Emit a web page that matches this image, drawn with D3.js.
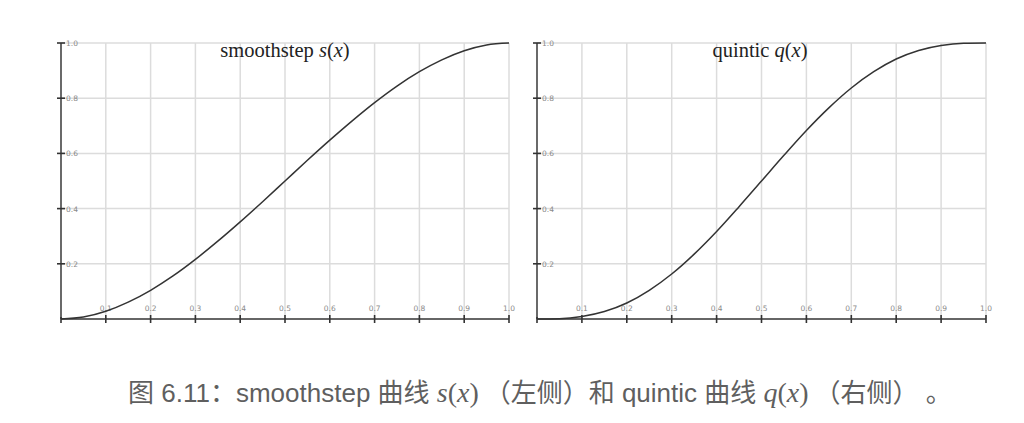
<!DOCTYPE html>
<html><head><meta charset="utf-8">
<script src="https://cdn.jsdelivr.net/npm/d3@7"></script>
<style>body{margin:0;background:#fff}svg{display:block}</style>
</head><body>
<svg id="c" width="1024" height="423"></svg>
<script>
const xs = [0,0.05,0.1,0.15,0.2,0.25,0.3,0.35,0.4,0.45,0.5,0.55,0.6,0.65,0.7,0.75,0.8,0.85,0.9,0.95,1];
const smoothVals = [0,0.007,0.028,0.061,0.104,0.156,0.216,0.282,0.352,0.425,0.5,0.575,0.648,0.718,0.784,0.844,0.896,0.939,0.972,0.993,1];
const quinticVals = [0,0.001,0.009,0.027,0.058,0.104,0.163,0.235,0.317,0.407,0.5,0.593,0.683,0.765,0.837,0.896,0.942,0.973,0.991,0.999,1];
const xTicks = [0.1,0.2,0.3,0.4,0.5,0.6,0.7,0.8,0.9,1.0];
const yTicks = [0.2,0.4,0.6,0.8,1.0];
const xTickLabels = ["0.1","0.2","0.3","0.4","0.5","0.6","0.7","0.8","0.9","1.0"];
const yTickLabels = ["0.2","0.4","0.6","0.8","1.0"];

const svg = d3.select("#c");

function panel(x0, x1, name, fn, vals, titleX){
  const x = d3.scaleLinear().domain([0,1]).range([x0,x1]);
  const y = d3.scaleLinear().domain([0,1]).range([319,43]);
  const g = svg.append("g");
  g.selectAll("line.vg").data(xTicks).join("line")
    .attr("x1",d=>x(d)).attr("x2",d=>x(d)).attr("y1",y(0)).attr("y2",y(1))
    .attr("stroke","#dcdcdc").attr("stroke-width",1.5);
  g.selectAll("line.hg").data(yTicks).join("line")
    .attr("x1",x(0)).attr("x2",x(1)).attr("y1",d=>y(d)).attr("y2",d=>y(d))
    .attr("stroke","#dcdcdc").attr("stroke-width",1.5);
  g.append("line").attr("x1",x(0)).attr("x2",x(1)).attr("y1",y(0)).attr("y2",y(0))
    .attr("stroke","#333").attr("stroke-width",1.6);
  g.append("line").attr("x1",x(0)).attr("x2",x(0)).attr("y1",y(0)).attr("y2",y(1))
    .attr("stroke","#444").attr("stroke-width",1.6);
  g.selectAll("line.xt").data(xTicks).join("line")
    .attr("x1",d=>x(d)).attr("x2",d=>x(d)).attr("y1",y(0)-4).attr("y2",y(0)+4)
    .attr("stroke","#333").attr("stroke-width",1.6);
  g.append("line").attr("x1",x(0)).attr("x2",x(0)).attr("y1",y(0)-2).attr("y2",y(0)+4)
    .attr("stroke","#333").attr("stroke-width",1.6);
  g.selectAll("line.yt").data(yTicks).join("line")
    .attr("x1",x(0)-4).attr("x2",x(0)+4).attr("y1",d=>y(d)).attr("y2",d=>y(d))
    .attr("stroke","#333").attr("stroke-width",1.6);
  g.selectAll("text.xl").data(xTicks).join("text")
    .attr("x",d=>x(d)).attr("y",y(0)-8).attr("text-anchor","middle")
    .attr("font-family","DejaVu Sans").attr("font-size",7.5).attr("fill","#8a8a8a")
    .text((d,i)=>xTickLabels[i]);
  g.selectAll("text.yl").data(yTicks).join("text")
    .attr("x",x(0)+5).attr("y",d=>y(d)+3).attr("text-anchor","start")
    .attr("font-family","DejaVu Sans").attr("font-size",7.5).attr("fill","#8a8a8a")
    .text((d,i)=>yTickLabels[i]);
  const line = d3.line().x((d,i)=>x(xs[i])).y(d=>y(d)).curve(d3.curveMonotoneX);
  g.append("path").datum(vals).attr("d",line).attr("fill","none")
    .attr("stroke","#333").attr("stroke-width",1.5);
  const t = g.append("text").attr("x",titleX).attr("y",57).attr("text-anchor","middle")
    .attr("font-family","Liberation Serif").attr("font-size",20.5).attr("fill","#222");
  t.append("tspan").text(name+" ");
  t.append("tspan").attr("font-style","italic").text(fn);
  t.append("tspan").text("(");
  t.append("tspan").attr("font-style","italic").text("x");
  t.append("tspan").text(")");
}
panel(61,509,"smoothstep","s",smoothVals,285);
panel(537,986,"quintic","q",quinticVals,760);

const cap = svg.append("text").attr("x",128).attr("y",402)
  .attr("font-family","Liberation Sans, Noto Sans CJK SC").attr("font-size",26).attr("fill","#5f5f5f");
const parts = [
  ["图",0],[" 6.11",1],["：",0],["smoothstep ",1],["曲线",0],[" ",1],
  ["s",2],["(",3],["x",2],[")",3],
  [" （左侧）和",0],[" quintic ",1],["曲线",0],[" ",1],
  ["q",2],["(",3],["x",2],[")",3],
  [" （右侧）",0],[" ",1],["。",0]
];
parts.forEach(p=>{
  const ts = cap.append("tspan").text(p[0]);
  if(p[1]===0) ts.attr("font-family","Noto Sans CJK SC");
  if(p[1]===1) ts.attr("font-family","Liberation Sans");
  if(p[1]===2) ts.attr("font-family","Liberation Serif").attr("font-style","italic").attr("font-size",28);
  if(p[1]===3) ts.attr("font-family","Liberation Serif").attr("font-size",28);
});
</script>
</body></html>
